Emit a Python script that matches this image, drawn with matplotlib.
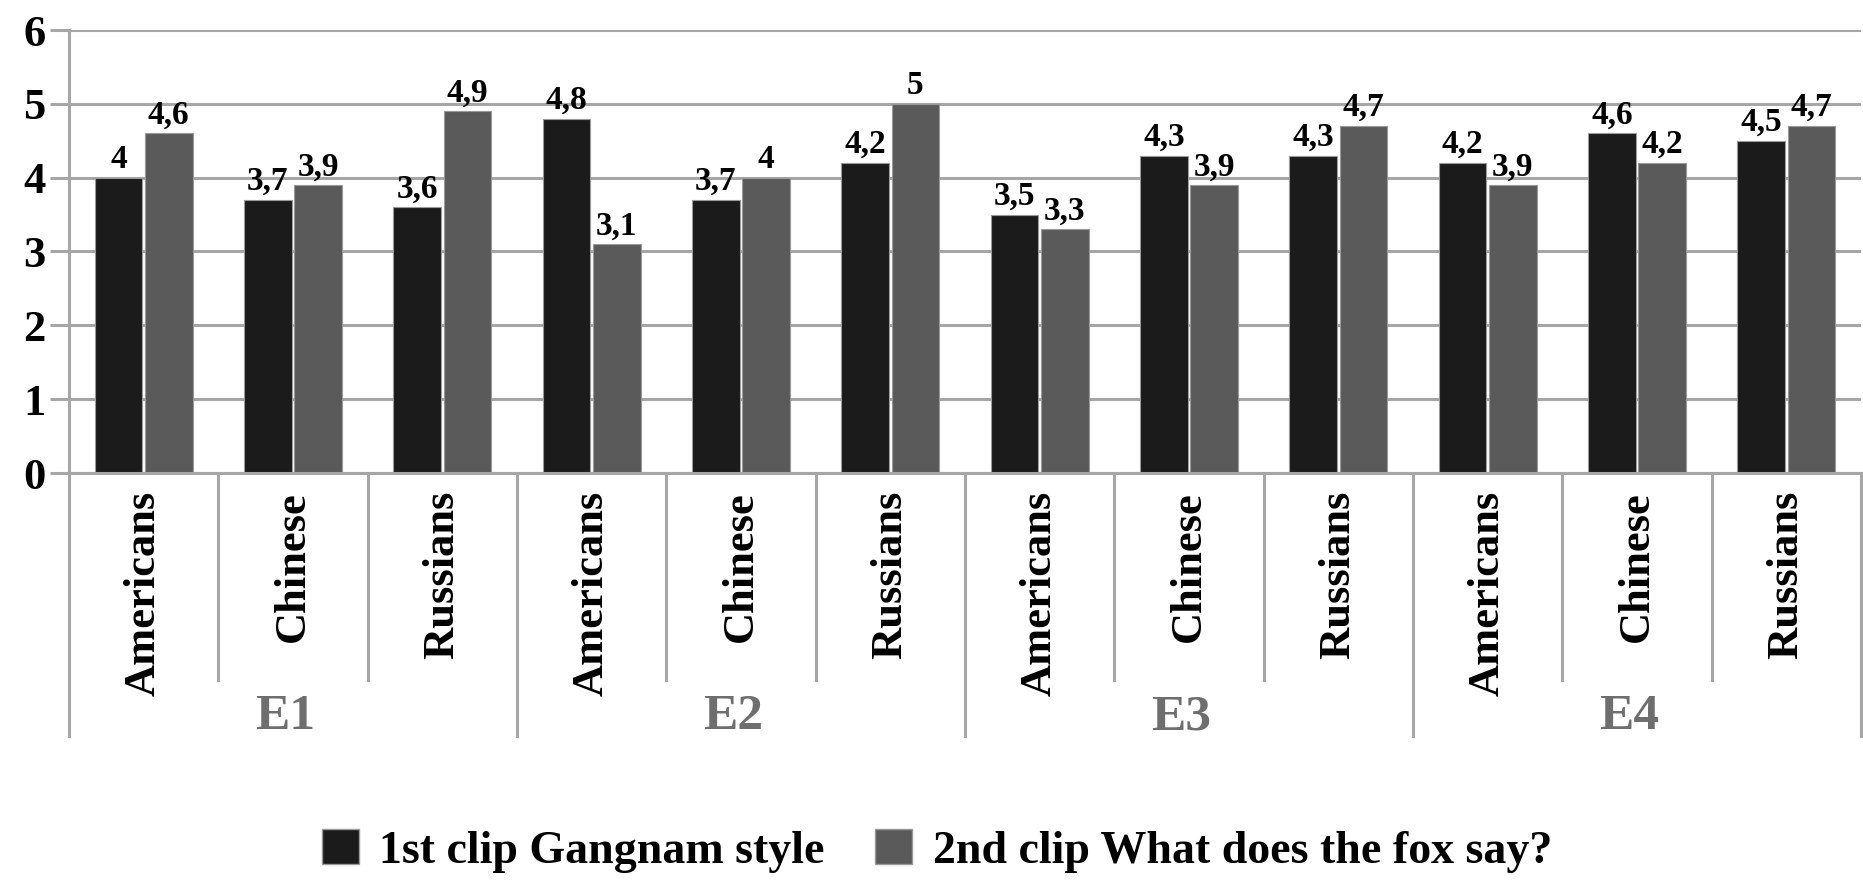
import numpy as np
import matplotlib
matplotlib.use('Agg')
import matplotlib.pyplot as plt
from matplotlib.patches import Patch

SERIF = 'Liberation Serif'
plt.rcParams['font.family'] = [SERIF, 'DejaVu Serif']
plt.rcParams['font.weight'] = 'bold'

experiments = ['E1', 'E2', 'E3', 'E4']
groups = ['Americans', 'Chinese', 'Russians']
clip1 = [4.0, 3.7, 3.6, 4.8, 3.7, 4.2, 3.5, 4.3, 4.3, 4.2, 4.6, 4.5]
clip2 = [4.6, 3.9, 4.9, 3.1, 4.0, 5.0, 3.3, 3.9, 4.7, 3.9, 4.2, 4.7]
series_names = ['1st clip Gangnam style', '2nd clip What does the fox say?']

c1 = '#1b1b1b'
c2 = '#5a5a5a'
grid_c = '#a6a6a6'

W, H = 1863, 880
fig = plt.figure(figsize=(W / 100, H / 100), dpi=100)
# axes box in pixels: x 69..1861, y(6)=30, y(0)=473
ax = fig.add_axes([69 / W, (H - 473) / H, (1861 - 69) / W, (473 - 30) / H])

x = np.arange(len(clip1))
bw = 0.32
ax.bar(x - 0.168, clip1, bw, color=c1, edgecolor='#9a9a9a', linewidth=0.8, zorder=3)
ax.bar(x + 0.168, clip2, bw, color=c2, edgecolor='#9a9a9a', linewidth=0.8, zorder=3)

def lab(v):
    return ('%g' % v).replace('.', ',')

for xi, v in zip(x, clip1):
    ax.annotate(lab(v), (xi - 0.168, v), xytext=(0, 2), textcoords='offset points',
                ha='center', va='bottom', fontsize=24, fontweight='bold', family=SERIF)
for xi, v in zip(x, clip2):
    ax.annotate(lab(v), (xi + 0.168, v), xytext=(0, 2), textcoords='offset points',
                ha='center', va='bottom', fontsize=24, fontweight='bold', family=SERIF)

ax.set_xlim(-0.5, len(clip1) - 0.5)
ax.set_ylim(0, 6)
ax.set_yticks(range(0, 7))
ax.set_yticklabels([str(i) for i in range(0, 7)], fontsize=32, fontweight='bold', family=SERIF)
ax.set_xticks([])
ax.tick_params(axis='y', length=14, width=2.2, color=grid_c, pad=3)
ax.grid(axis='y', color=grid_c, linewidth=2.2, zorder=0)
for s in ['top', 'right']:
    ax.spines[s].set_visible(False)
ax.spines['left'].set_color(grid_c)
ax.spines['left'].set_linewidth(2.2)
ax.spines['bottom'].set_color(grid_c)
ax.spines['bottom'].set_linewidth(2.2)
ax.spines['bottom'].set_zorder(4)

# category separators below the axis
trans = ax.get_xaxis_transform()
minor_bottom = (473 - 680) / (473 - 30)
major_bottom = (473 - 736) / (473 - 30)
for b in np.arange(-0.5, len(clip1), 1.0):
    yb = major_bottom if (b + 0.5) % 3 == 0 else minor_bottom
    ax.plot([b, b], [0, yb], transform=trans, color=grid_c, linewidth=2.2, clip_on=False)

for xi in x:
    ax.text(xi, (473 - 491) / (473 - 30), groups[xi % 3], transform=trans, rotation=90,
            ha='center', va='top', fontsize=32, fontweight='bold', family=SERIF)

for i, e in enumerate(experiments):
    ax.text(3 * i + 0.95, (473 - 717) / (473 - 30), e, transform=trans, ha='center',
            va='center', fontsize=37, fontweight='bold', color='#6e6e6e', family=SERIF)

handles = [Patch(facecolor=c1, edgecolor='#9a9a9a'), Patch(facecolor=c2, edgecolor='#9a9a9a')]
fig.legend(handles, series_names, loc='center', bbox_to_anchor=(0.503, (H - 851) / H),
           ncol=2, frameon=False, handlelength=0.8, handleheight=0.8,
           handletextpad=0.45, columnspacing=1.1,
           prop={'weight': 'bold', 'size': 33, 'family': SERIF})

fig.savefig('out.png', dpi=100)
